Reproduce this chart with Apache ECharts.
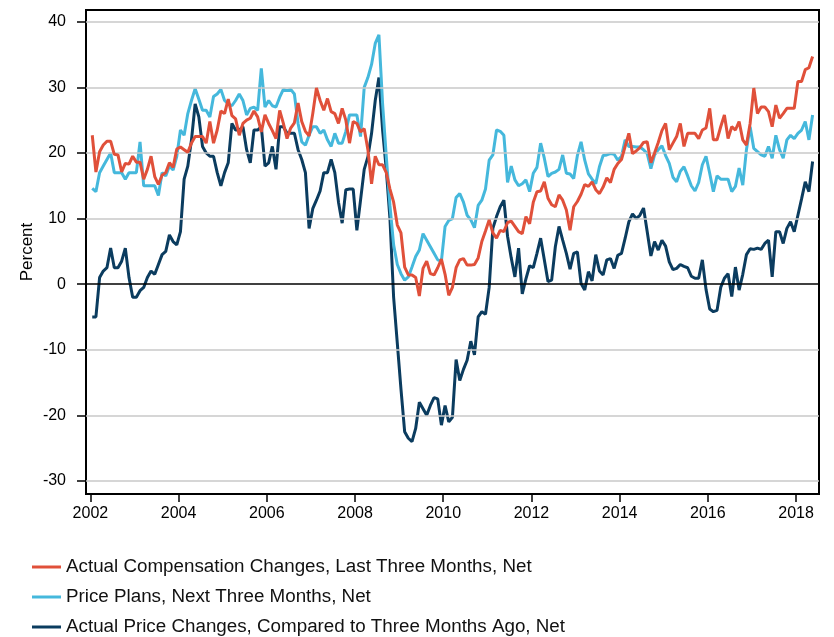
<!DOCTYPE html>
<html>
<head>
<meta charset="UTF-8">
<title>Compensation and prices</title>
<script src="https://cdn.jsdelivr.net/npm/echarts@6/dist/echarts.min.js"></script>
<style>
  html, body { margin: 0; padding: 0; background: #fff; }
  #chart { width: 834px; height: 637px; }
</style>
</head>
<body>
<div id="chart"></div>
<script>
// monthly, starting Jan 2002
var startYear = 2002;
var yearTicks = [2002, 2004, 2006, 2008, 2010, 2012, 2014, 2016, 2018];
var percentTicks = [-30, -20, -10, 0, 10, 20, 30, 40];
var seriesNames = [
  'Actual Compensation Changes, Last Three Months, Net',
  'Price Plans, Next Three Months, Net',
  'Actual Price Changes, Compared to Three Months Ago, Net'
];

var compensation = [
  22.7, 17.1, 20.2, 21.2, 21.8, 21.8, 19.8, 19.7, 17.1, 18.4,
  18.3, 19.5, 18.6, 18.6, 16, 17.5, 19.5, 16.4, 15.2, 16.6,
  17, 18.5, 17.8, 20.6, 20.9, 20.5, 20.1, 21.5, 22.5, 22.5,
  22.5, 21.5, 24.8, 21.5, 23.5, 26.4, 26, 28.2, 25.7, 25.2,
  22.7, 24.5, 25, 25.3, 26.4, 25.5, 23.2, 25.8, 24.5, 23.4,
  22.2, 26.5, 24.5, 22.2, 23.8, 24.6, 27.6, 24.8, 23.3, 22.6,
  26, 29.9, 28, 26.5, 28.3, 26.3, 26, 24.5, 26.8, 25,
  21.5, 24.8, 24.5, 23.2, 23.7, 20.5, 15.3, 19.5, 18.2, 18.2,
  17, 14.5, 12.5, 9, 7.8, 2.6, 1.4, 1.4, 1, -1.8,
  2.4, 3.5, 1.6, 1.4, 2.5, 3.8, 1.5, -1.7, -0.5, 2.5,
  3.7, 3.9, 2.9, 2.9, 3, 4, 6.5, 8.1, 9.8, 7.8,
  7, 8.2, 8, 9.4, 9.6, 8.8, 8, 7.7, 10.3, 9.2,
  12.5, 14.1, 14.2, 15.6, 13.1, 12.1, 11.8, 13.6, 12.8, 11.3,
  8.2, 11.8, 12.6, 13.7, 15.2, 14.9, 15.6, 14.4, 13.8, 14.8,
  16.2, 15.5, 17.5, 18.4, 19, 21, 23, 19.9, 20.3, 20.8,
  21.6, 21.7, 18.5, 20, 21.6, 23.4, 24.5, 20.5, 21.5, 22.5,
  24.5, 21, 23, 23, 23, 22.2, 23.5, 23.8, 26.8, 22,
  22, 24, 25.8, 22.2, 24, 23.5, 24.8, 22, 21.2, 24.5,
  29.9, 26, 27, 27, 26.3, 24, 27.3, 25.3, 26, 26.8,
  26.8, 26.8, 30.9, 30.9, 32.7, 33, 34.7
];

var pricePlans = [
  14.6, 14.1, 17, 18, 19, 20, 17, 17, 17, 16,
  17, 17, 17, 21.7, 15, 15, 15, 15, 13.5, 17,
  16.5, 18, 17.4, 19.5, 23.5, 22.7, 26, 28, 29.8, 28.2,
  26.5, 26.5, 25.5, 28.6, 29, 29.7, 28, 27.5, 27.2, 28,
  29, 28, 25.8, 26.8, 27, 26.5, 32.9, 27, 28, 27.2,
  27, 28.5, 29.7, 29.5, 29.7, 29, 24.5, 21.7, 21.2, 22.7,
  24, 24, 23, 23.5, 22, 21, 23, 21.5, 21.5, 23.3,
  25.8, 25.8, 25.8, 22.5, 30, 31.5, 33.5, 36.7, 38, 27.5,
  19.5, 12, 6, 3, 1.6, 0.6, 1.1, 2.6, 4.2, 5.2,
  7.7, 6.7, 5.7, 4.7, 3.7, 3.5, 8.8, 9.7, 10, 13.2,
  13.8, 12.5, 10.5, 9.8, 8.6, 12, 12.8, 14.5, 18.9, 19.7,
  23.5, 23.3, 22.7, 15.5, 18, 15.9, 15, 15.3, 15.9, 14.1,
  16.9, 17.8, 21.5, 19.2, 16.4, 16.9, 17.1, 17.5, 19.7, 16.9,
  16.8, 16.1, 19.6, 21.7, 18.9, 16.8, 16, 15.3, 17.9, 19.6,
  19.7, 19.9, 19.8, 18.9, 19.5, 22, 21, 21, 20.9, 20.9,
  20.5, 19.9, 17.6, 19.7, 20.5, 21.1, 19.6, 18.4, 16.3, 15.6,
  17.2, 17.9, 16.5, 15, 14.2, 15.5, 18.2, 19.5, 16.9, 14.1,
  16.5, 16, 16, 16, 14.1, 14.9, 17.7, 15.1, 20.5, 24,
  20.7, 20.2, 19.7, 19.5, 21, 19.2, 22.7, 20.5, 19.2, 22,
  22.7, 22.2, 23, 23.5, 24.8, 22, 25.8
];

var priceChanges = [
  -5, -5, 1, 2, 2.5, 5.5, 2.5, 2.5, 3.5, 5.5,
  1, -2, -2, -1, -0.5, 1, 2, 1.5, 3, 4.5,
  5, 7.5, 6.5, 6, 8, 16, 18, 22, 27.5, 25.5,
  21, 20, 19.5, 19.5, 17, 15, 17, 18.5, 24.5, 23.5,
  23.5, 24, 20.5, 18.5, 23.5, 23.5, 24, 18, 18.5, 21,
  17.5, 24, 24, 23, 23, 23, 20.5, 19, 17, 8.5,
  11.5, 12.8, 14.2, 17, 17, 19, 17, 12.5, 9.3, 14.4,
  14.5, 14.5, 8.2, 12.8, 17.5, 19.4, 23, 28, 31.5, 23.5,
  17.5, 10, -2, -9, -16, -22.5, -23.5, -24, -22, -18,
  -19, -20, -18.5, -17.3, -17.5, -21.5, -18.5, -21, -20.3, -11.5,
  -14.7, -13, -11.6, -8.7, -10.8, -5, -4.2, -4.6, -0.5, 8.5,
  10.3, 11.8, 12.8, 7.3, 4, 1.1, 5.5, -1.5, 0.8, 2.8,
  2.5, 4.7, 7, 3.7, 0.4, 0.6, 5.7, 8.8, 6.7, 4.7,
  2.3, 4.7, 4.9, 0.1, -0.9, 1.9, 0.5, 4.5, 2, 1.4,
  3.7, 3.9, 2.4, 4.4, 4.7, 7, 9.5, 10.7, 10, 10.5,
  11.6, 8, 4.3, 6.5, 5.2, 6.7, 5.8, 3.4, 2.2, 2.4,
  3, 2.7, 2.5, 1.2, 0.9, 0.9, 3.7, -0.8, -3.8, -4.2,
  -4, -0.5, 0.9, 1.6, -1.9, 2.6, -0.9, 1.5, 4.5, 5.4,
  5.3, 5.5, 5.3, 6.2, 6.7, 1.1, 8, 8, 6.2, 8.5,
  9.5, 8, 10.5, 13, 15.6, 14.1, 18.7
];

// place each monthly value at mid-month
function monthly(values) {
  return values.map(function (v, i) {
    return [startYear + (i + 0.5) / 12, v];
  });
}

var gridLines = percentTicks.filter(function (v) { return v !== 0; })
  .map(function (v) { return { yAxis: v }; });

var chart = echarts.init(document.getElementById('chart'));
chart.setOption({
  animation: false,
  textStyle: { fontFamily: 'Liberation Sans, Arial, sans-serif' },
  grid: {
    left: 86, right: 15, top: 10, bottom: 143,
    show: true, borderColor: '#000', borderWidth: 2
  },
  legend: {
    orient: 'vertical',
    left: 32, top: 557,
    padding: 0,
    height: 80,
    icon: 'rect',
    itemWidth: 29, itemHeight: 3,
    itemGap: 10,
    textStyle: { fontSize: 18.8, color: '#111', lineHeight: 20 },
    data: seriesNames
  },
  xAxis: {
    type: 'value',
    min: 2001.9, max: 2018.52,
    axisLine: { show: true, onZero: false, lineStyle: { color: '#000', width: 2 } },
    axisTick: { show: true, customValues: yearTicks, length: 8, lineStyle: { color: '#000', width: 1.5 } },
    axisLabel: {
      customValues: yearTicks, fontSize: 16, color: '#000', margin: 12,
      formatter: function (v) { return String(Math.round(v)); }
    },
    splitLine: { show: false }
  },
  yAxis: {
    type: 'value',
    min: -32, max: 41.8,
    name: 'Percent',
    nameLocation: 'middle',
    nameRotate: 90,
    nameGap: 50,
    nameMoveOverlap: false,
    nameTextStyle: { fontSize: 17, color: '#000' },
    axisLine: { show: true, lineStyle: { color: '#000', width: 2 } },
    axisTick: { show: true, customValues: percentTicks, length: 9, lineStyle: { color: '#000', width: 1.5 } },
    axisLabel: { customValues: percentTicks, fontSize: 16, color: '#000', margin: 20 },
    splitLine: { show: false }
  },
  series: [
    {
      name: 'grid',
      type: 'line',
      data: [],
      silent: true,
      z: 1,
      markLine: {
        silent: true, symbol: 'none', animation: false,
        label: { show: false },
        lineStyle: { color: '#c8c8c8', width: 1.5, type: 'solid' },
        data: gridLines
      }
    },
    {
      name: 'zero',
      type: 'line',
      data: [],
      silent: true,
      z: 1,
      markLine: {
        silent: true, symbol: 'none', animation: false,
        label: { show: false },
        lineStyle: { color: '#000', width: 1.6, type: 'solid' },
        data: [{ yAxis: 0 }]
      }
    },
    {
      name: seriesNames[2],
      type: 'line',
      data: monthly(priceChanges),
      showSymbol: false,
      z: 3,
      color: '#0b3c5f',
      lineStyle: { width: 3, color: '#0b3c5f' }
    },
    {
      name: seriesNames[1],
      type: 'line',
      data: monthly(pricePlans),
      showSymbol: false,
      z: 4,
      color: '#45b8dc',
      lineStyle: { width: 3, color: '#45b8dc' }
    },
    {
      name: seriesNames[0],
      type: 'line',
      data: monthly(compensation),
      showSymbol: false,
      z: 5,
      color: '#e0503a',
      lineStyle: { width: 3, color: '#e0503a' }
    }
  ]
});
</script>
</body>
</html>
